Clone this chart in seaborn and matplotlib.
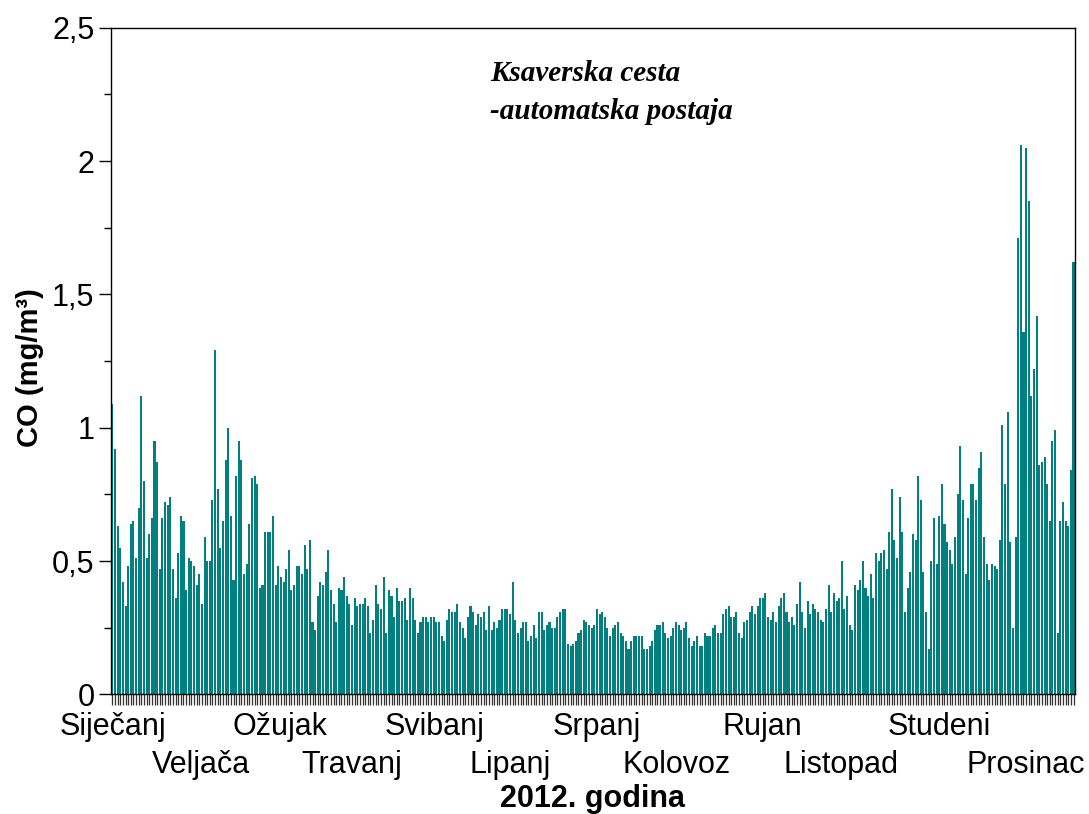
import numpy as np
import pandas as pd
import matplotlib
matplotlib.use("Agg")
import matplotlib.pyplot as plt
import seaborn as sns
from matplotlib.ticker import FixedLocator, MultipleLocator

# daily CO means (mg/m3), 2012
jan = [1.09, 0.92, 0.63, 0.55, 0.42, 0.33, 0.48, 0.64, 0.65, 0.51, 0.70, 1.12, 0.80, 0.51, 0.60, 0.66,
       0.95, 0.87, 0.47, 0.66, 0.72, 0.71, 0.74, 0.47, 0.36, 0.53, 0.67, 0.65, 0.39, 0.51, 0.50]
feb = [0.48, 0.41, 0.45, 0.34, 0.59, 0.50, 0.50, 0.73, 1.29, 0.77, 0.55, 0.65, 0.88, 1.00, 0.67,
       0.43, 0.82, 0.95, 0.88, 0.45, 0.49, 0.64, 0.81, 0.82, 0.79, 0.40, 0.41, 0.61, 0.61]
mar = [0.61, 0.67, 0.41, 0.48, 0.44, 0.42, 0.47, 0.54, 0.39, 0.41, 0.48, 0.48, 0.45, 0.56, 0.47, 0.58,
       0.27, 0.24, 0.37, 0.42, 0.41, 0.46, 0.54, 0.39, 0.34, 0.27, 0.40, 0.39, 0.44, 0.37, 0.34]
apr = [0.26, 0.36, 0.33, 0.34, 0.34, 0.36, 0.33, 0.23, 0.28, 0.41, 0.34, 0.32, 0.44, 0.23, 0.39,
       0.37, 0.29, 0.40, 0.35, 0.35, 0.36, 0.28, 0.40, 0.36, 0.28, 0.23, 0.27, 0.29, 0.29, 0.27]
may = [0.29, 0.29, 0.27, 0.27, 0.22, 0.20, 0.28, 0.32, 0.31, 0.31, 0.34, 0.27, 0.25, 0.21, 0.29, 0.33,
       0.31, 0.26, 0.30, 0.29, 0.31, 0.24, 0.33, 0.24, 0.27, 0.25, 0.28, 0.32, 0.32, 0.32, 0.30]
jun = [0.42, 0.28, 0.23, 0.25, 0.27, 0.27, 0.20, 0.22, 0.26, 0.21, 0.31, 0.31, 0.24, 0.26, 0.27,
       0.25, 0.25, 0.29, 0.31, 0.32, 0.32, 0.19, 0.18, 0.19, 0.20, 0.23, 0.24, 0.28, 0.27, 0.26]
jul = [0.25, 0.26, 0.32, 0.30, 0.31, 0.29, 0.25, 0.22, 0.25, 0.26, 0.27, 0.23, 0.22, 0.20, 0.17, 0.20,
       0.22, 0.22, 0.22, 0.22, 0.17, 0.17, 0.18, 0.20, 0.24, 0.26, 0.26, 0.27, 0.23, 0.21, 0.22]
aug = [0.25, 0.27, 0.26, 0.24, 0.25, 0.27, 0.21, 0.18, 0.20, 0.22, 0.18, 0.18, 0.23, 0.22, 0.22, 0.25,
       0.26, 0.23, 0.23, 0.30, 0.32, 0.33, 0.29, 0.29, 0.31, 0.23, 0.21, 0.27, 0.28, 0.31, 0.33]
sep = [0.30, 0.33, 0.36, 0.36, 0.38, 0.29, 0.28, 0.31, 0.27, 0.33, 0.36, 0.38, 0.31, 0.27, 0.29,
       0.26, 0.34, 0.42, 0.31, 0.25, 0.35, 0.30, 0.34, 0.32, 0.31, 0.28, 0.27, 0.32, 0.41, 0.31]
oct_ = [0.38, 0.35, 0.36, 0.50, 0.32, 0.37, 0.26, 0.24, 0.41, 0.39, 0.43, 0.50, 0.40, 0.37, 0.45, 0.36,
        0.53, 0.50, 0.53, 0.54, 0.47, 0.61, 0.77, 0.58, 0.51, 0.74, 0.61, 0.31, 0.40, 0.46, 0.60]
nov = [0.58, 0.82, 0.73, 0.46, 0.31, 0.17, 0.50, 0.66, 0.49, 0.67, 0.79, 0.64, 0.57, 0.54, 0.49,
       0.59, 0.75, 0.93, 0.73, 0.45, 0.66, 0.79, 0.79, 0.73, 0.85, 0.91, 0.59, 0.49, 0.43, 0.49]
dec = [0.48, 0.47, 0.58, 1.01, 0.79, 1.06, 0.57, 0.25, 0.59, 1.71, 2.06, 1.36, 2.05, 1.85, 1.12, 1.22,
       1.42, 0.86, 0.87, 0.89, 0.79, 0.65, 0.95, 0.99, 0.23, 0.65, 0.72, 0.65, 0.63, 0.84, 1.62]

months = ["Siječanj", "Veljača", "Ožujak", "Travanj", "Svibanj", "Lipanj",
          "Srpanj", "Kolovoz", "Rujan", "Listopad", "Studeni", "Prosinac"]
# where each month name sits along the day axis
month_label_day = [0.3, 33.7, 63.8, 90.8, 122.3, 151.2, 183.9, 214.3, 247, 276.7, 314, 347]

yticks = [0, 0.5, 1, 1.5, 2, 2.5]
ytick_labels = ["0", "0,5", "1", "1,5", "2", "2,5"]

co = jan + feb + mar + apr + may + jun + jul + aug + sep + oct_ + nov + dec
df = pd.DataFrame({"day": np.arange(len(co)), "co": co})

sns.set_theme(style="white")
plt.rcParams["font.family"] = ["Liberation Sans", "DejaVu Sans"]
plt.rcParams["text.color"] = "black"
plt.rcParams["axes.labelcolor"] = "black"
plt.rcParams["xtick.color"] = "black"
plt.rcParams["ytick.color"] = "black"

fig = plt.figure(figsize=(10.89, 8.14), dpi=100)
ax = fig.add_axes([0.102, 0.147, 0.885, 0.819])

sns.barplot(data=df, x="day", y="co", color="#008080", saturation=1, width=0.78,
            errorbar=None, native_scale=True, linewidth=0, edgecolor="none", ax=ax)

ax.set_xlim(-0.5, len(co) - 0.5)
ax.set_ylim(0, 2.5)
ax.set_xlabel("")

ax.set_yticks(yticks, ytick_labels)
ax.yaxis.set_minor_locator(MultipleLocator(0.25))
ax.tick_params(axis="y", which="major", labelsize=22, length=9, width=1,
               direction="out", left=True, pad=3)
ax.tick_params(axis="y", which="minor", length=5, width=1, direction="out", left=True)

# one small tick under every day, month names drawn as two staggered rows
ax.set_xticks([])
ax.xaxis.set_minor_locator(FixedLocator(np.arange(len(co))))
ax.tick_params(axis="x", which="minor", length=8, width=0.9, color="#333333",
               direction="out", bottom=True)
row_y = [-0.049, -0.106]
for i, (m, d) in enumerate(zip(months, month_label_day)):
    ax.text(d, row_y[i % 2], m, transform=ax.get_xaxis_transform(),
            ha="center", va="center", fontsize=22, clip_on=False)

for s in ax.spines.values():
    s.set_visible(True)
    s.set_color("black")
    s.set_linewidth(1)

fig.text(0.544, 0.019, "2012. godina", fontsize=22, fontweight="bold", ha="center", va="center")
ax.set_ylabel("CO (mg/m³)", fontsize=21, fontweight="bold")
ax.yaxis.set_label_coords(-0.07, 0.49)

serif = ["Liberation Serif", "DejaVu Serif"]
ax.text(0.393, 0.932, "Ksaverska cesta", transform=ax.transAxes, family=serif,
        style="italic", fontweight="bold", fontsize=21, va="center", ha="left")
ax.text(0.393, 0.874, "-automatska postaja", transform=ax.transAxes, family=serif,
        style="italic", fontweight="bold", fontsize=21, va="center", ha="left")

fig.savefig("out.png", dpi=100)
